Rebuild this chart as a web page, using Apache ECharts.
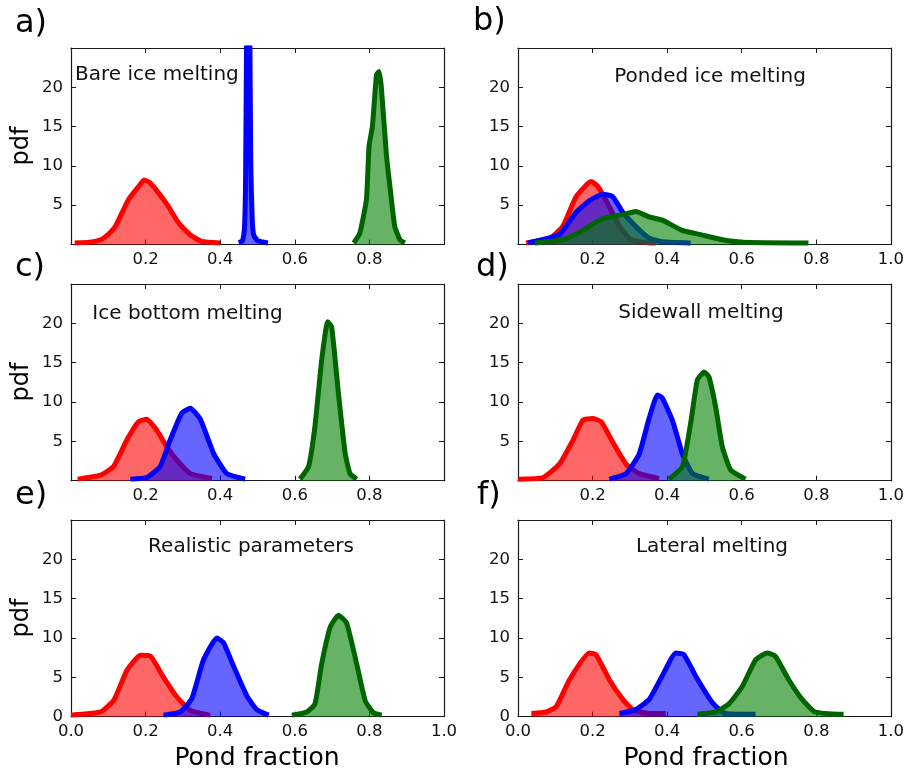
<!DOCTYPE html>
<html>
<head>
<meta charset="utf-8">
<script src="https://cdn.jsdelivr.net/npm/echarts@6/dist/echarts.min.js"></script>
<style>
html,body{margin:0;padding:0;background:#fff;}
#chart{width:907px;height:776px;}
</style>
</head>
<body>
<div id="chart"></div>
<script>
// ---------------- data (x = pond fraction, y = pdf) ----------------
const PANEL_LETTERS = ['a)', 'b)', 'c)', 'd)', 'e)', 'f)'];
const PANEL_TITLES = ['Bare ice melting', 'Ponded ice melting', 'Ice bottom melting',
                      'Sidewall melting', 'Realistic parameters', 'Lateral melting'];
const X_TICK_LABELS_A = ['0.2', '0.4', '0.6', '0.8'];
const X_TICK_LABELS_B = ['0.2', '0.4', '0.6', '0.8', '1.0'];
const X_TICK_LABELS_BOTTOM = ['0.0', '0.2', '0.4', '0.6', '0.8', '1.0'];
const Y_TICK_LABELS_UPPER = ['5', '10', '15', '20'];
const Y_TICK_LABELS_BOTTOM = ['0', '5', '10', '15', '20'];
const X_AXIS_NAME = 'Pond fraction';
const Y_AXIS_NAME = 'pdf';

// a) Bare ice melting
const A_RED = [[0.01,0.2],[0.05,0.3],[0.08,0.6],[0.10,1.3],[0.12,2.4],[0.154,5.7],[0.18,7.3],[0.196,8.2],[0.213,7.8],[0.256,5.2],[0.289,2.7],[0.32,1.2],[0.35,0.4],[0.40,0.2]];
const A_BLUE = [[0.45,0.2],[0.46,0.5],[0.465,2.0],[0.468,8.0],[0.471,28],[0.475,45],[0.479,30],[0.482,10],[0.486,3.0],[0.49,1.2],[0.50,0.5],[0.528,0.2]];
const A_GREEN = [[0.758,0.2],[0.774,1.4],[0.792,5.7],[0.799,12.5],[0.808,15.0],[0.819,21.6],[0.826,22.0],[0.832,20.0],[0.846,11.2],[0.855,7.4],[0.868,2.3],[0.882,0.6],[0.895,0.2]];
// b) Ponded ice melting
const B_RED = [[0.022,0.2],[0.085,0.8],[0.12,2.3],[0.156,6.1],[0.196,8.0],[0.214,7.4],[0.245,4.8],[0.272,2.3],[0.303,0.6],[0.352,0.2],[0.37,0.2]];
const B_BLUE = [[0.027,0.2],[0.111,1.3],[0.156,4.1],[0.192,5.6],[0.227,6.4],[0.254,6.1],[0.281,4.1],[0.316,2.3],[0.352,0.8],[0.387,0.35],[0.463,0.2]];
const B_GREEN = [[0.045,0.2],[0.12,0.6],[0.174,1.8],[0.218,3.1],[0.245,3.5],[0.281,3.8],[0.316,4.2],[0.352,3.5],[0.387,3.1],[0.44,1.8],[0.494,1.2],[0.548,0.6],[0.601,0.3],[0.779,0.2]];
// c) Ice bottom melting
const C_RED = [[0.018,0.2],[0.079,0.7],[0.114,1.8],[0.15,5.2],[0.181,7.5],[0.203,7.8],[0.23,6.4],[0.257,4.3],[0.284,2.6],[0.32,0.9],[0.378,0.3]];
const C_BLUE = [[0.159,0.2],[0.203,0.4],[0.239,1.8],[0.266,5.2],[0.297,8.6],[0.32,9.2],[0.347,7.8],[0.382,3.5],[0.418,0.9],[0.467,0.2]];
const C_GREEN = [[0.614,0.2],[0.637,1.8],[0.654,6.9],[0.672,15.3],[0.688,20.2],[0.699,19.5],[0.717,11.1],[0.735,3.5],[0.748,0.9],[0.766,0.2]];
// d) Sidewall melting
const D_RED = [[0.0,0.2],[0.067,0.4],[0.111,2.1],[0.147,5.1],[0.174,7.7],[0.2,7.9],[0.223,7.5],[0.254,4.9],[0.29,2.1],[0.325,0.9],[0.378,0.3]];
const D_BLUE = [[0.245,0.2],[0.29,0.9],[0.325,3.4],[0.352,8.0],[0.374,10.9],[0.387,10.5],[0.414,7.7],[0.441,3.4],[0.468,0.9],[0.512,0.2]];
const D_GREEN = [[0.405,0.2],[0.441,1.8],[0.463,7.3],[0.481,12.8],[0.499,13.8],[0.512,13.2],[0.53,9.4],[0.548,4.3],[0.57,1.4],[0.61,0.2]];
// e) Realistic parameters
const E_RED = [[0.0,0.2],[0.079,0.6],[0.115,2.1],[0.15,5.9],[0.186,7.8],[0.213,7.7],[0.248,5.0],[0.284,2.5],[0.32,0.8],[0.373,0.2]];
const E_BLUE = [[0.248,0.2],[0.293,0.6],[0.324,2.3],[0.355,7.2],[0.391,10.0],[0.409,9.4],[0.436,6.4],[0.472,2.6],[0.498,0.9],[0.53,0.2]];
const E_GREEN = [[0.592,0.2],[0.632,0.6],[0.654,1.6],[0.672,6.7],[0.695,11.4],[0.717,12.9],[0.739,11.9],[0.766,6.7],[0.789,2.0],[0.811,0.5],[0.833,0.2]];
// f) Lateral melting
const F_RED = [[0.036,0.4],[0.076,0.6],[0.103,1.3],[0.138,4.7],[0.191,8.1],[0.209,7.9],[0.245,4.7],[0.281,2.2],[0.308,0.9],[0.352,0.4],[0.396,0.4]];
const F_BLUE = [[0.272,0.4],[0.316,0.9],[0.352,2.2],[0.387,5.2],[0.423,8.1],[0.445,7.9],[0.476,5.2],[0.521,1.8],[0.556,0.4],[0.637,0.3]];
const F_GREEN = [[0.481,0.3],[0.53,0.6],[0.565,1.6],[0.601,3.8],[0.637,7.2],[0.668,8.1],[0.69,7.7],[0.726,4.7],[0.762,2.2],[0.797,0.6],[0.873,0.3]];

// ---------------- layout / style ----------------
const FONT = 'DejaVu Sans';
const PANELS = [
  {grid:{left:71, top:48, width:373, height:196.5}, data:[A_RED,A_BLUE,A_GREEN], xl:X_TICK_LABELS_A, yl:Y_TICK_LABELS_UPPER,
   letter:[15,24], title:{x:75, y:75, align:'left'}},
  {grid:{left:518, top:48, width:374.5, height:196.5}, data:[B_RED,B_BLUE,B_GREEN], xl:X_TICK_LABELS_B, yl:Y_TICK_LABELS_UPPER,
   letter:[473,22], title:{x:710, y:77, align:'center'}},
  {grid:{left:71, top:284, width:373, height:196.7}, data:[C_RED,C_BLUE,C_GREEN], xl:X_TICK_LABELS_A, yl:Y_TICK_LABELS_UPPER,
   letter:[15,268], title:{x:187.5, y:314, align:'center'}},
  {grid:{left:518, top:284, width:374.5, height:196.7}, data:[D_RED,D_BLUE,D_GREEN], xl:X_TICK_LABELS_B, yl:Y_TICK_LABELS_UPPER,
   letter:[476,268], title:{x:701, y:313, align:'center'}},
  {grid:{left:71, top:520, width:373, height:196.7}, data:[E_RED,E_BLUE,E_GREEN], xl:X_TICK_LABELS_BOTTOM, yl:Y_TICK_LABELS_BOTTOM,
   letter:[15,496], title:{x:251, y:547, align:'center'}},
  {grid:{left:518, top:520, width:374.5, height:196.7}, data:[F_RED,F_BLUE,F_GREEN], xl:X_TICK_LABELS_BOTTOM, yl:Y_TICK_LABELS_BOTTOM,
   letter:[477,496], title:{x:712, y:547, align:'center'}}
];
const LINE_COLORS = ['#ff0000', '#0000ff', '#006400'];
const FILL_COLORS = ['rgba(255,0,0,0.6)', 'rgba(0,0,255,0.6)', 'rgba(0,128,0,0.6)'];
const AXIS_COLOR = '#1a1a1a';

const grids = [], xAxes = [], yAxes = [], series = [], graphics = [];
PANELS.forEach((p, i) => {
  grids.push(Object.assign({containLabel:false}, p.grid));
  const tickStyle = {show:true, inside:true, length:5, lineStyle:{color:AXIS_COLOR, width:1}};
  const lineStyle = {show:true, onZero:false, lineStyle:{color:AXIS_COLOR, width:1.2}};
  xAxes.push({type:'value', gridIndex:i, min:0, max:1, interval:0.2, position:'bottom',
    axisLine:lineStyle, axisTick:tickStyle, splitLine:{show:false},
    axisLabel:{show:true, margin:7, fontFamily:FONT, fontSize:16.5, color:'#111',
      showMinLabel:true, showMaxLabel:true,
      formatter:(v)=>{const s=v.toFixed(1); return p.xl.indexOf(s)>=0?s:'';}}});
  xAxes.push({type:'value', gridIndex:i, min:0, max:1, interval:0.2, position:'top',
    axisLine:lineStyle, axisTick:tickStyle, axisLabel:{show:false}, splitLine:{show:false}});
  yAxes.push({type:'value', gridIndex:i, min:0, max:25, interval:5, position:'left',
    axisLine:lineStyle, axisTick:tickStyle, splitLine:{show:false},
    axisLabel:{show:true, margin:8, fontFamily:FONT, fontSize:16.5, color:'#111',
      showMinLabel:true, showMaxLabel:true,
      formatter:(v)=>{const s=String(Math.round(v)); return p.yl.indexOf(s)>=0?s:'';}}});
  yAxes.push({type:'value', gridIndex:i, min:0, max:25, interval:5, position:'right',
    axisLine:lineStyle, axisTick:tickStyle, axisLabel:{show:false}, splitLine:{show:false}});

  p.data.forEach((d, k) => {
    series.push({type:'line', xAxisIndex:2*i, yAxisIndex:2*i, data:d, showSymbol:false, symbol:'none',
      smooth:0.15, clip:true, z:2+k, silent:true,
      lineStyle:{color:LINE_COLORS[k], width:5, join:'round', cap:'butt'},
      areaStyle:{color:FILL_COLORS[k], opacity:1, origin:'start'}});
  });

  graphics.push({type:'text', x:p.letter[0], y:p.letter[1],
    style:{text:PANEL_LETTERS[i], font:'32px "DejaVu Sans"', fill:'#000', textAlign:'left', textVerticalAlign:'middle'}});
  graphics.push({type:'text', x:p.title.x, y:p.title.y, z:10,
    style:{text:PANEL_TITLES[i], font:'20px "DejaVu Sans"', fill:'#111', textAlign:p.title.align, textVerticalAlign:'middle'}});
});

[[22,146],[22,382],[22,618]].forEach(([x,y]) => {
  graphics.push({type:'text', x:x, y:y, rotation:Math.PI/2,
    style:{text:Y_AXIS_NAME, font:'24px "DejaVu Sans"', fill:'#000', textAlign:'center', textVerticalAlign:'middle'}});
});
[[257,758],[706,758]].forEach(([x,y]) => {
  graphics.push({type:'text', x:x, y:y,
    style:{text:X_AXIS_NAME, font:'25px "DejaVu Sans"', fill:'#000', textAlign:'center', textVerticalAlign:'middle'}});
});

const chart = echarts.init(document.getElementById('chart'), null, {renderer:'canvas'});
chart.setOption({
  animation:false,
  backgroundColor:'#fff',
  grid:grids, xAxis:xAxes, yAxis:yAxes, series:series, graphic:graphics
});
</script>
</body>
</html>
